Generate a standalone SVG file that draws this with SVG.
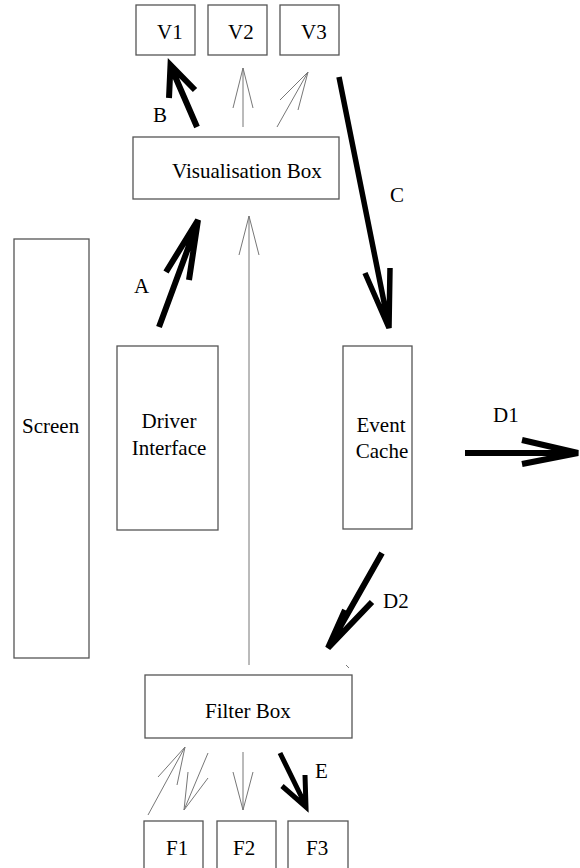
<svg xmlns="http://www.w3.org/2000/svg" width="580" height="868" viewBox="0 0 580 868">
<style>
.box{fill:#fff;stroke:#555;stroke-width:1.3}
.t{font-family:"Liberation Serif","Times New Roman",serif;font-size:21px;fill:#000}
.thick{fill:none;stroke:#000;stroke-width:6;stroke-linecap:butt;stroke-linejoin:miter}
.thin{fill:none;stroke:#777;stroke-width:1}
</style>
<rect width="580" height="868" fill="#fff"/>
<g id="V1"><rect class="box" x="136" y="5" width="59" height="50"/><text class="t" x="157" y="39">V1</text></g>
<g id="V2"><rect class="box" x="208" y="5" width="59" height="50"/><text class="t" x="228" y="39">V2</text></g>
<g id="V3"><rect class="box" x="280" y="5" width="59" height="50"/><text class="t" x="301" y="39">V3</text></g>
<g id="vis"><rect class="box" x="133" y="137" width="206" height="62"/><text class="t" x="172" y="178">Visualisation Box</text></g>
<g id="screen"><rect class="box" x="14" y="239" width="75" height="419"/><text class="t" x="22" y="433">Screen</text></g>
<g id="driver"><rect class="box" x="117" y="346" width="101" height="184"/><text class="t" x="169" y="428" text-anchor="middle">Driver</text><text class="t" x="169" y="455" text-anchor="middle">Interface</text></g>
<g id="cache"><rect class="box" x="343" y="346" width="69" height="183"/><text class="t" x="381" y="432" text-anchor="middle">Event</text><text class="t" x="382" y="458" text-anchor="middle">Cache</text></g>
<g id="filter"><rect class="box" x="145" y="675" width="207" height="63"/><text class="t" x="205" y="718">Filter Box</text></g>
<g id="F1"><rect class="box" x="144" y="821" width="59" height="60"/><text class="t" x="166" y="855">F1</text></g>
<g id="F2"><rect class="box" x="217" y="821" width="59" height="60"/><text class="t" x="233" y="855">F2</text></g>
<g id="F3"><rect class="box" x="288" y="821" width="60" height="60"/><text class="t" x="306" y="855">F3</text></g>
<g id="connectors">
<path class="thick" d="M197,127 L171,67 M169,98 L170.5,65 L195,90"/>
<path class="thin" d="M243,127 L243,68 M233,108 L243,68 L253,108"/>
<path class="thin" d="M277,127 L308,72 M280,100 L308,72 L298,110"/>
<path class="thick" d="M339,77 L388,322 M365,273 L389,328 L390,268" style="stroke-width:5.5"/>
<path class="thick" d="M159,327 L197,224 M166,272 L198,220 L189,280"/>
<path class="thin" d="M249,665 L249,216 M239,255 L249,216 L259,255"/>
<path class="thick" d="M465,453 L574,453 M522,440 L578,453 L522,464"/>
<path class="thick" d="M382,553 L331,643 M345,610 L328,648 L372,602"/>
<path class="thin" d="M148,815 L185,747 M158,777 L185,747 L177,785"/>
<path class="thin" d="M208,753 L184,810 M188,772 L184,810 L208,778"/>
<path class="thin" d="M243,752 L243,810 M233,772 L243,810 L253,772"/>
<path class="thick" d="M280,753 L304,802 M282,786 L306,807 L305,775" style="stroke-width:5"/>
<path class="thin" d="M346,665 L349,668"/>
</g>
<g id="labels">
<text class="t" x="153" y="122">B</text>
<text class="t" x="134" y="293">A</text>
<text class="t" x="390" y="202">C</text>
<text class="t" x="493" y="422">D1</text>
<text class="t" x="383" y="608">D2</text>
<text class="t" x="315" y="778">E</text>
</g>
</svg>
